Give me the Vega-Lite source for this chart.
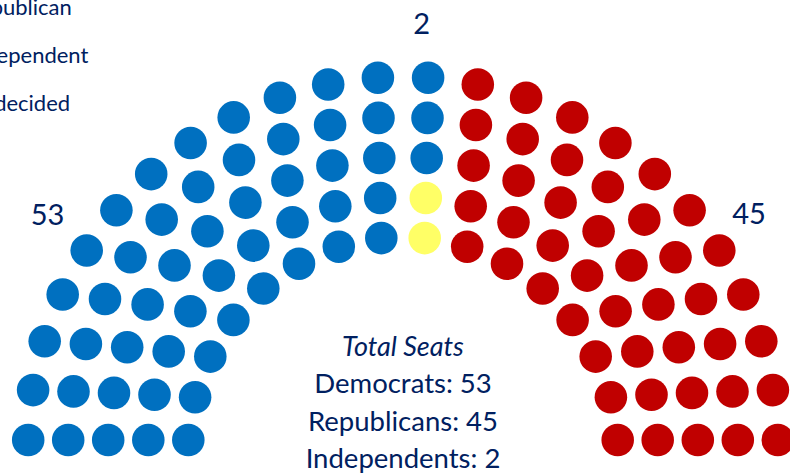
{
  "$schema": "https://vega.github.io/schema/vega-lite/v6.json",
  "width": 790,
  "height": 476,
  "autosize": {"type": "none"},
  "padding": 0,
  "background": "white",
  "config": {"view": {"stroke": null}, "font": "Lato"},
  "layer": [
    {
      "data": {"values": [
        {"party": "Democrat", "x": -374.8, "y": 12.0},
        {"party": "Democrat", "x": -369.9, "y": 61.9},
        {"party": "Democrat", "x": -358.3, "y": 110.7},
        {"party": "Democrat", "x": -340.3, "y": 157.5},
        {"party": "Democrat", "x": -316.3, "y": 201.5},
        {"party": "Democrat", "x": -286.6, "y": 241.8},
        {"party": "Democrat", "x": -251.8, "y": 277.9},
        {"party": "Democrat", "x": -212.4, "y": 309.0},
        {"party": "Democrat", "x": -169.3, "y": 334.6},
        {"party": "Democrat", "x": -123.1, "y": 354.2},
        {"party": "Democrat", "x": -74.8, "y": 367.5},
        {"party": "Democrat", "x": -25.1, "y": 374.2},
        {"party": "Democrat", "x": 25.1, "y": 374.2},
        {"party": "Republican", "x": 74.8, "y": 367.5},
        {"party": "Republican", "x": 123.1, "y": 354.2},
        {"party": "Republican", "x": 169.3, "y": 334.6},
        {"party": "Republican", "x": 212.4, "y": 309.0},
        {"party": "Republican", "x": 251.8, "y": 277.9},
        {"party": "Republican", "x": 286.6, "y": 241.8},
        {"party": "Republican", "x": 316.3, "y": 201.5},
        {"party": "Republican", "x": 340.3, "y": 157.5},
        {"party": "Republican", "x": 358.3, "y": 110.7},
        {"party": "Republican", "x": 369.9, "y": 61.9},
        {"party": "Republican", "x": 374.8, "y": 12.0},

        {"party": "Democrat", "x": -334.8, "y": 12.0},
        {"party": "Democrat", "x": -329.5, "y": 60.6},
        {"party": "Democrat", "x": -317.1, "y": 108.0},
        {"party": "Democrat", "x": -298.0, "y": 153.0},
        {"party": "Democrat", "x": -272.5, "y": 194.8},
        {"party": "Democrat", "x": -241.3, "y": 232.4},
        {"party": "Democrat", "x": -204.8, "y": 265.1},
        {"party": "Democrat", "x": -164.0, "y": 292.1},
        {"party": "Democrat", "x": -119.7, "y": 312.9},
        {"party": "Democrat", "x": -72.9, "y": 327.0},
        {"party": "Democrat", "x": -24.5, "y": 334.1},
        {"party": "Democrat", "x": 24.5, "y": 334.1},
        {"party": "Republican", "x": 72.9, "y": 327.0},
        {"party": "Republican", "x": 119.7, "y": 312.9},
        {"party": "Republican", "x": 164.0, "y": 292.1},
        {"party": "Republican", "x": 204.8, "y": 265.1},
        {"party": "Republican", "x": 241.3, "y": 232.4},
        {"party": "Republican", "x": 272.5, "y": 194.8},
        {"party": "Republican", "x": 298.0, "y": 153.0},
        {"party": "Republican", "x": 317.1, "y": 108.0},
        {"party": "Republican", "x": 329.5, "y": 60.6},
        {"party": "Republican", "x": 334.8, "y": 12.0},

        {"party": "Democrat", "x": -294.8, "y": 12.0},
        {"party": "Democrat", "x": -289.0, "y": 59.1},
        {"party": "Democrat", "x": -275.8, "y": 104.7},
        {"party": "Democrat", "x": -255.4, "y": 147.6},
        {"party": "Democrat", "x": -228.5, "y": 186.6},
        {"party": "Democrat", "x": -195.6, "y": 220.8},
        {"party": "Democrat", "x": -157.6, "y": 249.4},
        {"party": "Democrat", "x": -115.6, "y": 271.4},
        {"party": "Democrat", "x": -70.6, "y": 286.4},
        {"party": "Democrat", "x": -23.7, "y": 294.0},
        {"party": "Democrat", "x": 23.7, "y": 294.0},
        {"party": "Republican", "x": 70.6, "y": 286.4},
        {"party": "Republican", "x": 115.6, "y": 271.4},
        {"party": "Republican", "x": 157.6, "y": 249.4},
        {"party": "Republican", "x": 195.6, "y": 220.8},
        {"party": "Republican", "x": 228.5, "y": 186.6},
        {"party": "Republican", "x": 255.4, "y": 147.6},
        {"party": "Republican", "x": 275.8, "y": 104.7},
        {"party": "Republican", "x": 289.0, "y": 59.1},
        {"party": "Republican", "x": 294.8, "y": 12.0},

        {"party": "Democrat", "x": -254.7, "y": 12.0},
        {"party": "Democrat", "x": -248.5, "y": 57.2},
        {"party": "Democrat", "x": -234.3, "y": 100.6},
        {"party": "Democrat", "x": -212.6, "y": 140.8},
        {"party": "Democrat", "x": -184.1, "y": 176.4},
        {"party": "Democrat", "x": -149.7, "y": 206.4},
        {"party": "Democrat", "x": -110.5, "y": 229.8},
        {"party": "Democrat", "x": -67.7, "y": 245.8},
        {"party": "Democrat", "x": -22.8, "y": 254.0},
        {"party": "Independent", "x": 22.8, "y": 254.0},
        {"party": "Republican", "x": 67.7, "y": 245.8},
        {"party": "Republican", "x": 110.5, "y": 229.8},
        {"party": "Republican", "x": 149.7, "y": 206.4},
        {"party": "Republican", "x": 184.1, "y": 176.4},
        {"party": "Republican", "x": 212.6, "y": 140.8},
        {"party": "Republican", "x": 234.3, "y": 100.6},
        {"party": "Republican", "x": 248.5, "y": 57.2},
        {"party": "Republican", "x": 254.7, "y": 12.0},

        {"party": "Democrat", "x": -214.7, "y": 12.0},
        {"party": "Democrat", "x": -207.9, "y": 54.8},
        {"party": "Democrat", "x": -192.7, "y": 95.4},
        {"party": "Democrat", "x": -169.6, "y": 132.1},
        {"party": "Democrat", "x": -139.7, "y": 163.5},
        {"party": "Democrat", "x": -104.0, "y": 188.2},
        {"party": "Democrat", "x": -64.2, "y": 205.2},
        {"party": "Democrat", "x": -21.7, "y": 213.9},
        {"party": "Independent", "x": 21.7, "y": 213.9},
        {"party": "Republican", "x": 64.2, "y": 205.2},
        {"party": "Republican", "x": 104.0, "y": 188.2},
        {"party": "Republican", "x": 139.7, "y": 163.5},
        {"party": "Republican", "x": 169.6, "y": 132.1},
        {"party": "Republican", "x": 192.7, "y": 95.4},
        {"party": "Republican", "x": 207.9, "y": 54.8},
        {"party": "Republican", "x": 214.7, "y": 12.0}
      ]},
      "mark": {"type": "point", "shape": "circle", "filled": true, "size": 1060, "opacity": 1},
      "encoding": {
        "x": {"field": "x", "type": "quantitative", "scale": {"domain": [-403, 387], "nice": false, "zero": false}, "axis": null},
        "y": {"field": "y", "type": "quantitative", "scale": {"domain": [-24, 452], "nice": false, "zero": false}, "axis": null},
        "color": {
          "field": "party",
          "type": "nominal",
          "scale": {"domain": ["Democrat", "Republican", "Independent", "Undecided"], "range": ["#0070C0", "#C00000", "#FFFF66", "#A6A6A6"]},
          "legend": {
            "title": null,
            "orient": "none",
            "legendX": -60,
            "legendY": -51,
            "padding": 0,
            "labelFontSize": 22,
            "labelFont": "Lato",
            "labelColor": "#002060",
            "labelOffset": 4,
            "symbolType": "circle",
            "symbolSize": 400,
            "symbolStrokeWidth": 0,
            "rowPadding": 26
          }
        }
      }
    },
    {
      "data": {"values": [{}]},
      "mark": {"type": "text", "text": "53", "font": "Lato", "fontSize": 29, "color": "#002060", "align": "center", "baseline": "alphabetic"},
      "encoding": {"x": {"datum": -355.5, "type": "quantitative"}, "y": {"datum": 227, "type": "quantitative"}}
    },
    {
      "data": {"values": [{}]},
      "mark": {"type": "text", "text": "2", "font": "Lato", "fontSize": 29, "color": "#002060", "align": "center", "baseline": "alphabetic"},
      "encoding": {"x": {"datum": 18.7, "type": "quantitative"}, "y": {"datum": 418, "type": "quantitative"}}
    },
    {
      "data": {"values": [{}]},
      "mark": {"type": "text", "text": "45", "font": "Lato", "fontSize": 29, "color": "#002060", "align": "center", "baseline": "alphabetic"},
      "encoding": {"x": {"datum": 346, "type": "quantitative"}, "y": {"datum": 228, "type": "quantitative"}}
    },
    {
      "data": {"values": [{}]},
      "mark": {"type": "text", "text": "Total Seats", "font": "Lato", "fontSize": 27, "fontStyle": "italic", "color": "#002060", "align": "center", "baseline": "alphabetic"},
      "encoding": {"x": {"datum": 0, "type": "quantitative"}, "y": {"datum": 96.5, "type": "quantitative"}}
    },
    {
      "data": {"values": [{}]},
      "mark": {"type": "text", "text": "Democrats: 53", "font": "Lato", "fontSize": 27.5, "color": "#002060", "align": "center", "baseline": "alphabetic"},
      "encoding": {"x": {"datum": 0, "type": "quantitative"}, "y": {"datum": 59, "type": "quantitative"}}
    },
    {
      "data": {"values": [{}]},
      "mark": {"type": "text", "text": "Republicans: 45", "font": "Lato", "fontSize": 27.5, "color": "#002060", "align": "center", "baseline": "alphabetic"},
      "encoding": {"x": {"datum": 0, "type": "quantitative"}, "y": {"datum": 21.5, "type": "quantitative"}}
    },
    {
      "data": {"values": [{}]},
      "mark": {"type": "text", "text": "Independents: 2", "font": "Lato", "fontSize": 27.5, "color": "#002060", "align": "center", "baseline": "alphabetic"},
      "encoding": {"x": {"datum": 0, "type": "quantitative"}, "y": {"datum": -16, "type": "quantitative"}}
    }
  ]
}
